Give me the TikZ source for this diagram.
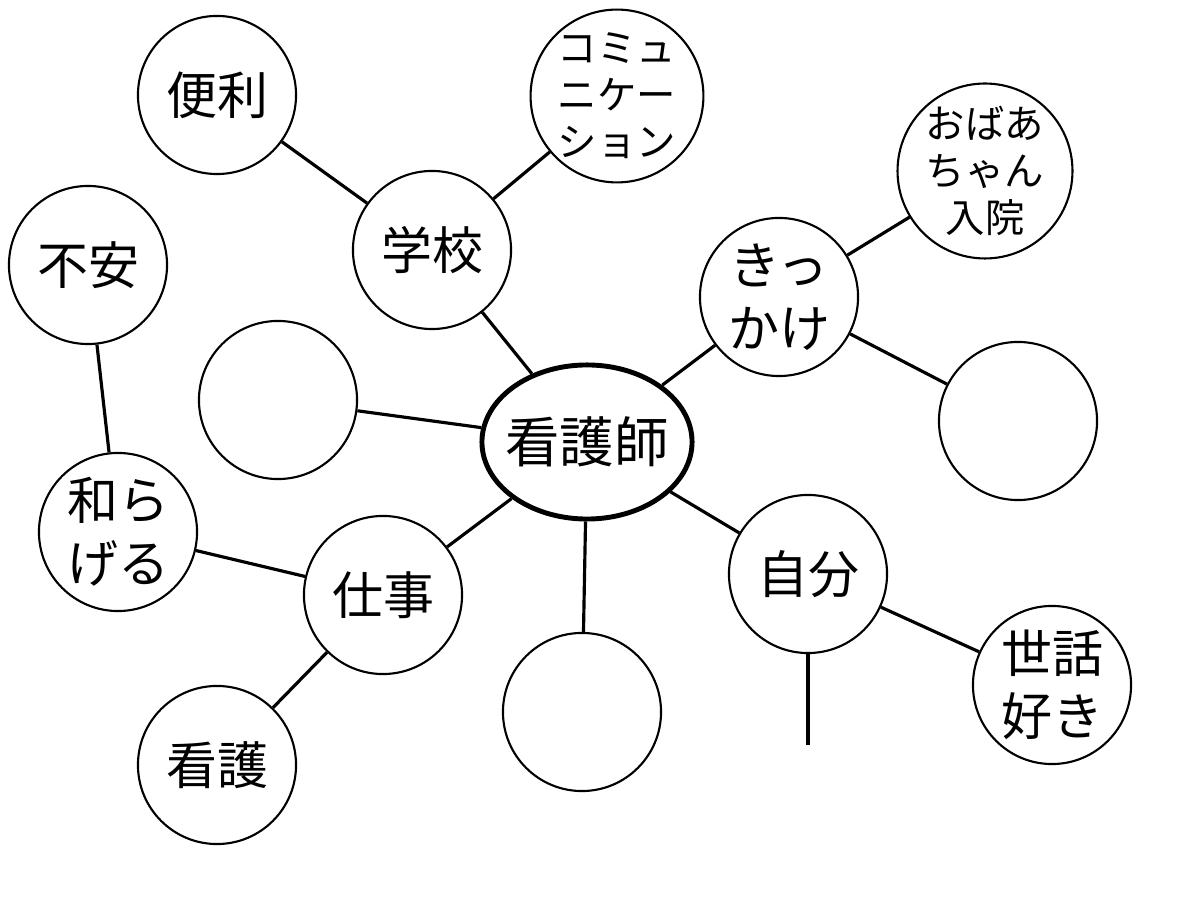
\documentclass[tikz,border=0pt]{standalone}
\usepackage{fontspec}
\setmainfont{Noto Sans CJK JP}
\usetikzlibrary{shapes.geometric}

\begin{document}
\begin{tikzpicture}[x=0.01cm, y=0.01cm,
    bubble/.style={circle, draw, line width=0.6pt, minimum size=1.58cm, inner sep=0pt,
      align=center, font=\fontsize{14.5}{18}\selectfont},
    smallbubble/.style={bubble, font=\fontsize{11.2}{13.4}\selectfont},
    link/.style={line width=0.9pt}]

      % Bingkai gambar
      \useasboundingbox (0,0) rectangle (1200,900);

      % Simpul tengah
      \node[ellipse, draw, line width=1.4pt, minimum width=2.1cm, minimum height=1.54cm,
        inner xsep=-2.2pt, inner ysep=0pt,
        font=\fontsize{15.5}{18}\selectfont] (kangoshi) at (587,458) {看護師};

      % Simpul cabang
      \node[bubble] (benri) at (217,805) {便利};
      \node[smallbubble] (komyu) at (617,804) {コミュ\\ニケー\\ション};
      \node[bubble] (gakkou) at (432,650) {学校};
      \node[smallbubble] (obaa) at (985,729) {おばあ\\ちゃん\\入院};
      \node[bubble] (fuan) at (88,635) {不安};
      \node[bubble] (kikkake) at (779,603) {きっ\\かけ};
      \node[bubble] (akiL) at (278,500) {};
      \node[bubble] (akiR) at (1018,479) {};
      \node[bubble] (yawara) at (118,368) {和ら\\げる};
      \node[bubble] (shigoto) at (383,305) {仕事};
      \node[bubble] (jibun) at (808,326) {自分};
      \node[bubble] (akiB) at (582,188) {};
      \node[bubble] (sewa) at (1052,215) {世話\\好き};
      \node[bubble] (kango) at (217,135) {看護};
      \coordinate (jibunEnd) at (808,155);

      % Garis penghubung
      \draw[link] (benri) -- (gakkou);
      \draw[link] (komyu) -- (gakkou);
      \draw[link] (gakkou) -- (kangoshi);
      \draw[link] (fuan) -- (yawara);
      \draw[link] (akiL) -- (kangoshi);
      \draw[link] (kikkake) -- (kangoshi);
      \draw[link] (kikkake) -- (obaa);
      \draw[link] (kikkake) -- (akiR);
      \draw[link] (kangoshi) -- (shigoto);
      \draw[link] (yawara) -- (shigoto);
      \draw[link] (shigoto) -- (kango);
      \draw[link] (kangoshi) -- (akiB);
      \draw[link] (kangoshi) -- (jibun);
      \draw[link] (jibun) -- (sewa);
      \draw[link] (jibun) -- (jibunEnd);

    \end{tikzpicture}
\end{document}
